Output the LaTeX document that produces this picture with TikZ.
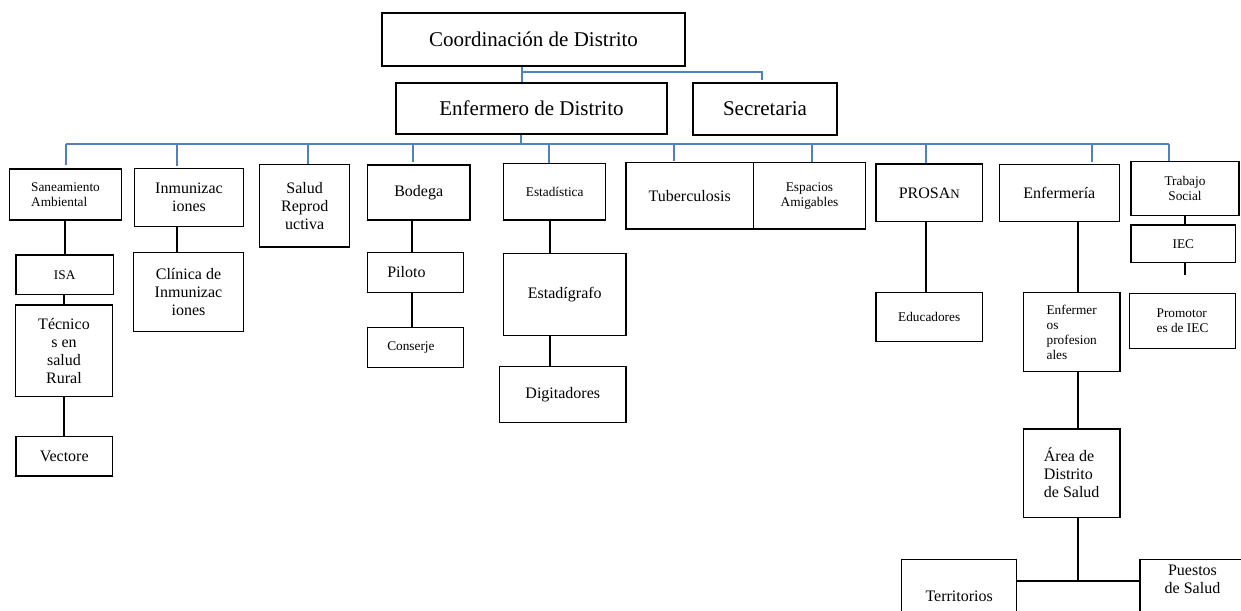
\documentclass[tikz,border=0pt]{standalone}
\usepackage{fontspec}
\setmainfont{Liberation Serif}
\newcommand{\fbig}{\fontsize{21}{24}\selectfont}
\newcommand{\fmid}{\fontsize{16}{18}\selectfont}
\newcommand{\fsml}{\fontsize{13.3}{15.2}\selectfont}
\definecolor{lineblue}{RGB}{79,129,189}
\begin{document}
\begin{tikzpicture}[x=1pt,y=-1pt,
 box/.style={draw=black, line width=1.3pt, inner sep=2pt, align=center},
 bl/.style={draw=lineblue, line width=2pt},
 kl/.style={draw=black, line width=2.2pt},
]
\useasboundingbox (0,0) rectangle (1241,610);

% top level
\node[box, minimum width=303pt, minimum height=53pt, font=\fbig] (coord) at (533.5,39.5) {Coordinación de Distrito};
\node[box, minimum width=271pt, minimum height=51pt, font=\fbig] (enf) at (531.5,108.5) {Enfermero de Distrito};
\node[box, minimum width=144pt, minimum height=52pt, font=\fbig] (sec) at (765,109) {Secretaria};

% second level
\node[box, minimum width=112.4pt, minimum height=51pt, font=\fsml, align=left] (san) at (65.5,194.5) {Saneamiento\\Ambiental};
\node[box, minimum width=109.4pt, minimum height=58pt, font=\fmid] (inm) at (189,197.3) {Inmunizac\\iones};
\node[box, minimum width=90pt, minimum height=82.7pt, font=\fmid] (salud) at (304.7,205.7) {Salud\\Reprod\\uctiva};
\node[box, minimum width=102.7pt, minimum height=55pt, font=\fmid] (bod) at (418.7,192.5) {Bodega};
\node[box, minimum width=102pt, minimum height=56.7pt, font=\fsml] (est) at (554.7,191.7) {Estadística};
\node[box, minimum width=127.3pt, minimum height=66.3pt, font=\fmid] (tub) at (689.7,195.8) {Tuberculosis};
\node[box, minimum width=112.4pt, minimum height=66.3pt, font=\fsml] (esp) at (809.5,195.8) {Espacios\\Amigables};
\node[box, minimum width=106.7pt, minimum height=57.7pt, font=\fmid] (pros) at (929.3,192.8) {PROSA{\fontsize{13}{15}\selectfont N}};
\node[box, minimum width=120pt, minimum height=57.4pt, font=\fmid] (enfa) at (1059.3,193) {Enfermería};
\node[box, minimum width=108pt, minimum height=53.8pt, font=\fsml] (ts) at (1185,188.4) {Trabajo\\Social};

% lower levels
\node[box, minimum width=97.3pt, minimum height=39.3pt, font=\fsml] (isa) at (64.7,274.7) {ISA};
\node[box, minimum width=96.6pt, minimum height=91.7pt, font=\fmid] (tec) at (64,350.8) {Técnico\\s en\\salud\\Rural};
\node[box, minimum width=96.3pt, minimum height=39.3pt, font=\fmid] (vec) at (64.2,456.3) {Vectore};
\node[box, minimum width=109.6pt, minimum height=79pt, font=\fmid] (cli) at (188.5,292.2) {Clínica de\\Inmunizac\\iones};
\node[box, text width=56pt, inner xsep=20pt, minimum height=39.6pt, font=\fmid, align=left] (pil) at (415.3,272.5) {Piloto};
\node[box, text width=56pt, inner xsep=20pt, minimum height=40pt, font=\fsml, align=left] (con) at (415.3,347.7) {Conserje};
\node[box, minimum width=122.3pt, minimum height=82.4pt, font=\fmid] (estg) at (564.8,294.5) {Estadígrafo};
\node[box, minimum width=126.3pt, minimum height=56pt, font=\fmid] (dig) at (562.8,394.7) {Digitadores};
\node[box, minimum width=106.3pt, minimum height=49pt, font=\fsml] (edu) at (929.2,317.2) {Educadores};
\node[box, minimum width=96.7pt, minimum height=79pt, font=\fsml, align=left] (ep) at (1071.7,332.2) {Enfermer\\os\\profesion\\ales};
\node[box, minimum width=96.7pt, minimum height=88.3pt, font=\fmid, align=left] (area) at (1071.7,473.2) {Área de\\Distrito\\de Salud};
\node[box, minimum width=104.7pt, minimum height=37.3pt, font=\fsml] (iec) at (1183.3,243.7) {IEC};
\node[box, minimum width=106.4pt, minimum height=55pt, font=\fsml, align=left] (prom) at (1182.5,320.8) {Promotor\\es de IEC};
\node[box, anchor=north, minimum width=115pt, minimum height=90pt,
  label={[font=\fmid, anchor=base, yshift=-42pt, inner sep=0pt]north:Territorios}] (ter) at (959.2,559) {};
\node[box, anchor=north, minimum width=105pt, minimum height=90pt,
  label={[font=\fmid, align=center, anchor=north, yshift=-6pt, inner sep=0pt]north:{Puestos\\de Salud}}] (pue) at (1192.5,559) {};

% blue connectors
\coordinate (bus) at (0,144);
\coordinate (cj) at (521.7,72);
\draw[bl] ([xshift=-11.8pt]coord.south) -- ([xshift=-9.8pt]enf.north);
\draw[bl] (cj) -| ([xshift=-3pt,yshift=2pt]sec.north);
\draw[bl] ([xshift=-10.5pt]enf.south) -- ([xshift=-10.5pt]enf.south |- bus);
\draw[bl] (san.north |- bus) -- ([xshift=-15.7pt]ts.north |- bus);
\foreach \n/\dx/\g in {san/0/3, inm/-11.7/1.6, salud/3/0, bod/-6/2, est/-5.4/0, tub/-15.4/1, esp/2.5/0, pros/-3/0, enfa/33/2, ts/-15.7/0}
  \draw[bl] ([xshift=\dx pt]\n.north |- bus) -- ([xshift=\dx pt,yshift=\g pt]\n.north);

% black connectors
\draw[kl] (isa.north) -- (isa.north |- san.south);
\draw[kl] (tec.north) -- (tec.north |- isa.south);
\draw[kl] (vec.north) -- (vec.north |- tec.south);
\draw[kl] ([xshift=-11.5pt]cli.north) -- ([xshift=-11.5pt]cli.north |- inm.south);
\draw[kl] ([xshift=-3pt]pil.north) -- ([xshift=-3pt]pil.north |- bod.south);
\draw[kl] ([xshift=-3.6pt]con.north) -- ([xshift=-3.6pt]con.north |- pil.south);
\draw[kl] ([xshift=-14.8pt]estg.north) -- ([xshift=-14.8pt]estg.north |- est.south);
\draw[kl] ([xshift=-12.8pt]dig.north) -- ([xshift=-12.8pt]dig.north |- estg.south);
\draw[kl] ([xshift=-3.2pt]edu.north) -- ([xshift=-3.2pt]edu.north |- pros.south);
\draw[kl] ([xshift=6.3pt]ep.north) -- ([xshift=6.3pt]ep.north |- enfa.south);
\draw[kl] ([xshift=6.3pt]area.north) -- ([xshift=6.3pt]area.north |- ep.south);
\coordinate (j) at (1078,581.3);
\draw[kl] ([xshift=6.3pt]area.south) -- (j);
\draw[kl] (ter.east |- j) -- (pue.west |- j);
\draw[kl] ([xshift=1.7pt]iec.north) -- ([xshift=1.7pt]iec.north |- ts.south);
\coordinate (iecend) at (1185,275);
\draw[kl] (iecend |- iec.south) -- (iecend);
\end{tikzpicture}
\end{document}
